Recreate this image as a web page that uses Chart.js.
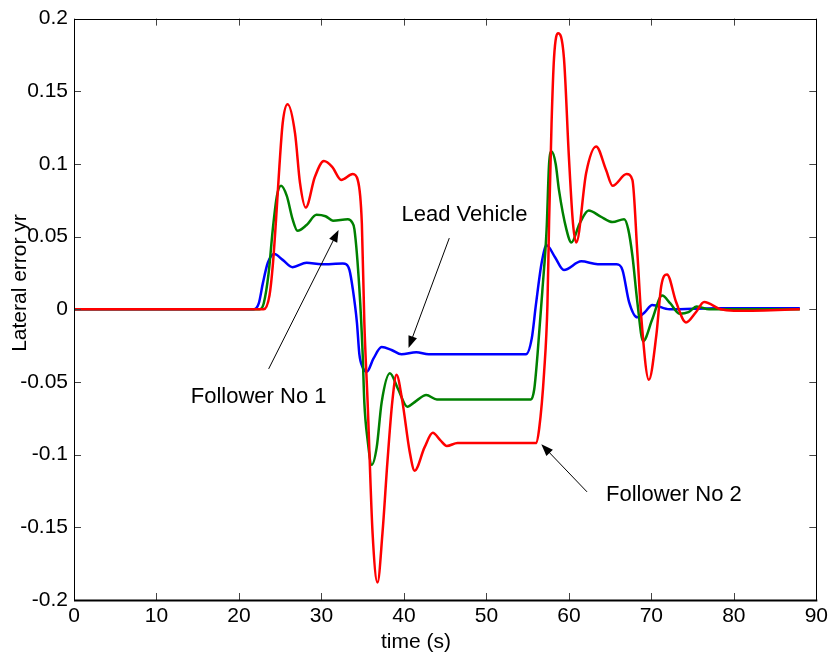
<!DOCTYPE html>
<html><head><meta charset="utf-8">
<script src="https://cdn.jsdelivr.net/npm/chart.js@4/dist/chart.umd.min.js"></script>
<style>html,body{margin:0;padding:0;background:#fff;}#wrap{width:832px;height:665px;}</style>
</head><body><div id="wrap"><canvas id="c" width="832" height="665"></canvas></div>
<script>
// ---- data ----
const xTickValues = [0,10,20,30,40,50,60,70,80,90];
const xTickLabels = ['0','10','20','30','40','50','60','70','80','90'];
const yTickValues = [-0.2,-0.15,-0.1,-0.05,0,0.05,0.1,0.15,0.2];
const yTickLabels = ['-0.2','-0.15','-0.1','-0.05','0','0.05','0.1','0.15','0.2'];

const tBlue = [0,21.8,22.4,22.9,23.5,24.3,25.3,26.5,28.2,30.0,32.6,33.0,33.4,33.8,34.3,34.6,35.0,35.5,36.3,37.3,38.5,39.7,41.5,43.0,54.8,55.5,56.0,56.7,57.3,58.3,59.4,61.5,63.5,65.8,66.5,67.3,68.3,69.2,70.1,72.2,78,88];
const vBlue = [0,0,0.004,0.018,0.032,0.038,0.034,0.029,0.032,0.031,0.0315,0.031,0.027,0.014,-0.009,-0.031,-0.040,-0.043,-0.034,-0.026,-0.028,-0.031,-0.0295,-0.031,-0.031,-0.020,0.003,0.032,0.044,0.036,0.027,0.033,0.031,0.031,0.027,0.005,-0.0055,-0.002,0.003,0,0.0008,0.0008];

const tGreen = [0,22.5,23.0,23.6,24.1,24.6,25.1,25.8,26.5,27.1,28.2,29.4,30.5,31.4,33.2,33.7,34.0,34.6,35.0,35.2,35.6,36.1,36.7,37.3,38.3,39.3,40.4,41.5,42.7,44.0,55.4,55.8,56.2,56.8,57.3,57.6,57.9,58.4,58.8,59.7,60.3,61.3,62.4,63.8,65.3,66.7,67.2,67.7,68.3,69.0,70.1,71.3,72.3,73.4,74.5,75.5,77.0,88];
const vGreen = [0,0,0.004,0.025,0.055,0.078,0.085,0.078,0.062,0.054,0.058,0.065,0.064,0.061,0.062,0.060,0.055,0.014,-0.031,-0.064,-0.090,-0.107,-0.095,-0.064,-0.044,-0.055,-0.067,-0.063,-0.059,-0.062,-0.062,-0.055,-0.031,0.014,0.055,0.100,0.1085,0.100,0.082,0.055,0.046,0.059,0.068,0.064,0.060,0.062,0.055,0.037,0.005,-0.022,-0.007,0.0095,0.004,-0.003,-0.002,0.002,0,0];

const tRed = [0,23.0,23.7,24.1,24.5,24.9,25.3,25.9,26.8,27.4,28.1,29.2,30.3,31.3,32.4,33.8,34.4,34.9,35.2,35.6,36.2,36.8,37.4,38.0,38.6,39.1,39.8,40.7,41.3,42.5,43.5,44.4,45.2,46.5,56.0,56.4,57.0,57.4,57.6,57.9,58.2,58.7,59.4,60.0,60.5,60.9,62.1,63.3,64.5,65.3,67.0,67.7,68.3,68.8,69.7,70.6,71.2,71.9,73.0,74.2,75.4,76.4,78.4,80.0,88];
const vRed = [0,0,0.0095,0.030,0.062,0.098,0.128,0.141,0.121,0.087,0.070,0.091,0.102,0.098,0.089,0.093,0.089,0.059,-0.009,-0.064,-0.154,-0.188,-0.154,-0.105,-0.063,-0.045,-0.063,-0.098,-0.111,-0.095,-0.085,-0.090,-0.094,-0.092,-0.092,-0.082,-0.043,0.003,0.060,0.128,0.173,0.190,0.173,0.105,0.059,0.046,0.094,0.112,0.096,0.085,0.093,0.089,0.039,-0.007,-0.0485,-0.018,0.016,0.024,0.005,-0.009,-0.002,0.005,0,-0.001,0];

// annotations (data coordinates)
const notes = [
  {text:'Lead Vehicle',  tx:39.7,  ty:0.0607,  from:[45.5,0.049],   to:[40.56,-0.0266]},
  {text:'Follower No 1', tx:14.16, ty:-0.0648, from:[23.6,-0.041],  to:[32.08,0.0546]},
  {text:'Follower No 2', tx:64.5,  ty:-0.1317, from:[62.2,-0.1256], to:[56.66,-0.0928]}
];
const xTitle = 'time (s)';
const yTitle = 'Lateral error yr';

const FONT = "'Liberation Sans', Arial, Helvetica, sans-serif";
const zip = (t,v) => t.map((x,i)=>({x:x,y:v[i]}));
const labelFor = (vals, labs, v) => { const i = vals.findIndex(a=>Math.abs(a-v)<1e-9); return i<0?'':labs[i]; };

const framePlugin = {
  id:'frame',
  afterDraw(chart){
    const {ctx, chartArea:a, scales:{x,y}} = chart;
    ctx.save();
    // inward ticks on all sides
    ctx.strokeStyle = '#444'; ctx.lineWidth = 1;
    ctx.beginPath();
    xTickValues.forEach(v=>{
      const px = Math.round(x.getPixelForValue(v))+0.5;
      ctx.moveTo(px,a.bottom); ctx.lineTo(px,a.bottom-7);
      ctx.moveTo(px,a.top); ctx.lineTo(px,a.top+7);
    });
    yTickValues.forEach(v=>{
      const py = Math.round(y.getPixelForValue(v))+0.5;
      ctx.moveTo(a.left,py); ctx.lineTo(a.left+7,py);
      ctx.moveTo(a.right,py); ctx.lineTo(a.right-7,py);
    });
    ctx.stroke();
    // box
    ctx.strokeStyle = '#000'; ctx.lineWidth = 1;
    ctx.strokeRect(Math.round(a.left)+0.5, Math.round(a.top)+0.5, Math.round(a.right-a.left), Math.round(a.bottom-a.top));
    ctx.lineWidth = 2;
    ctx.beginPath(); ctx.moveTo(a.left, Math.round(a.bottom)+0.5); ctx.lineTo(a.right+1, Math.round(a.bottom)+0.5); ctx.stroke();

    // annotations
    ctx.fillStyle = '#000'; ctx.strokeStyle = '#000';
    ctx.font = '22px ' + FONT;
    ctx.textAlign = 'left'; ctx.textBaseline = 'alphabetic';
    notes.forEach(n=>{
      ctx.fillText(n.text, x.getPixelForValue(n.tx), y.getPixelForValue(n.ty));
      const x0 = x.getPixelForValue(n.from[0]), y0 = y.getPixelForValue(n.from[1]);
      const x1 = x.getPixelForValue(n.to[0]),   y1 = y.getPixelForValue(n.to[1]);
      const ang = Math.atan2(y1-y0, x1-x0);
      const L = 12, W = 4.5;
      ctx.lineWidth = 1;
      ctx.beginPath(); ctx.moveTo(x0,y0); ctx.lineTo(x1 - Math.cos(ang)*L*0.8, y1 - Math.sin(ang)*L*0.8); ctx.stroke();
      ctx.beginPath();
      ctx.moveTo(x1,y1);
      ctx.lineTo(x1 - Math.cos(ang)*L - Math.sin(ang)*W, y1 - Math.sin(ang)*L + Math.cos(ang)*W);
      ctx.lineTo(x1 - Math.cos(ang)*L + Math.sin(ang)*W, y1 - Math.sin(ang)*L - Math.cos(ang)*W);
      ctx.closePath(); ctx.fill();
    });

    // axis titles
    ctx.font = '21px ' + FONT;
    ctx.textAlign = 'center'; ctx.textBaseline = 'middle';
    ctx.fillText(xTitle, 416, 642);
    ctx.save();
    ctx.translate(20, 283); ctx.rotate(-Math.PI/2);
    ctx.fillText(yTitle, 0, 0);
    ctx.restore();
    ctx.restore();
  }
};

const ds = (label, t, v, color) => ({
  label, data: zip(t,v), borderColor: color, backgroundColor: color,
  borderWidth: 2.5, pointRadius: 0, fill: false, cubicInterpolationMode: 'monotone'
});

new Chart(document.getElementById('c'), {
  type: 'line',
  data: { datasets: [
    ds('Follower No 2', tRed, vRed, '#ff0000'),
    ds('Follower No 1', tGreen, vGreen, '#008000'),
    ds('Lead Vehicle', tBlue, vBlue, '#0000ff')
  ]},
  options: {
    responsive: false, animation: false, events: [],
    devicePixelRatio: 1,
    layout: { padding: { left: 0, right: 15, top: 14, bottom: 0 } },
    plugins: { legend: { display: false }, tooltip: { enabled: false } },
    scales: {
      x: {
        type: 'linear', min: 0, max: 90,
        grid: { display: false, drawTicks: false }, border: { display: false },
        afterBuildTicks: s => { s.ticks = xTickValues.map(v=>({value:v})); },
        afterFit: s => { s.height = 65; },
        ticks: { padding: 4, color: '#000', font: { size: 21, family: FONT }, maxRotation: 0, autoSkip: false,
          callback: v => labelFor(xTickValues, xTickLabels, v) }
      },
      y: {
        type: 'linear', min: -0.2, max: 0.2,
        grid: { display: false, drawTicks: false }, border: { display: false },
        afterBuildTicks: s => { s.ticks = yTickValues.map(v=>({value:v})); },
        afterFit: s => { s.width = 74; },
        ticks: { padding: 6, color: '#000', font: { size: 21, family: FONT }, autoSkip: false,
          callback: v => labelFor(yTickValues, yTickLabels, v) }
      }
    }
  },
  plugins: [framePlugin]
});
</script>
</body></html>
